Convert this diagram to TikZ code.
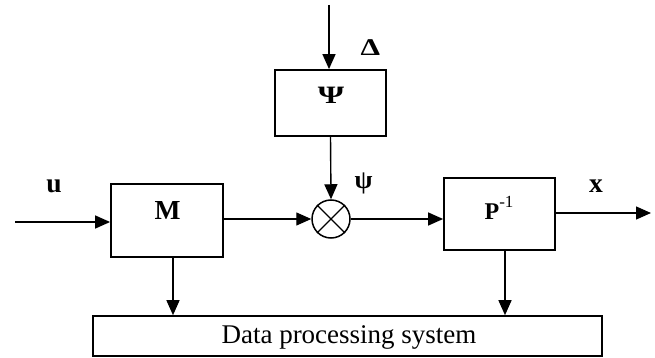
\documentclass[tikz,border=0pt]{standalone}
\usepackage{fontspec}
\setmainfont{Liberation Serif}
\usetikzlibrary{arrows.meta}
\begin{document}
\begin{tikzpicture}[x=1pt,y=-1pt,
  blk/.style={draw, line width=1.8pt, inner sep=0pt},
  conn/.style={line width=1.4pt, -{Triangle[length=15pt,width=13pt]}},
  plain/.style={line width=1.4pt},
  lblbig/.style={font=\fontsize{27.5}{30}\selectfont\bfseries, inner sep=0pt},
]
\useasboundingbox (0,0) rectangle (655,358);
% blocks
\node[blk, minimum width=112pt, minimum height=73pt] (M) at (167,220.5) {};
\node[blk, minimum width=111pt, minimum height=66pt] (Psi) at (330.5,103) {};
\node[blk, minimum width=111pt, minimum height=72pt] (P) at (499.5,214) {};
\node[draw, line width=1.6pt, inner sep=0pt, minimum width=509pt, minimum height=40pt] (D) at (347.5,336) {};
\node[draw, circle, line width=1.5pt, minimum size=38pt, inner sep=0pt] (X) at (331,219) {};
\draw[plain] (X.north west) -- (X.south east);
\draw[plain] (X.north east) -- (X.south west);
% labels
\node[lblbig, anchor=base] (Ml) at (167.5,219) {M};
\node[inner sep=0pt, anchor=base] (Psil) at (331,104) {\fontsize{25}{27}\selectfont\bfseries\scalebox{1.35}[1]{Ψ}};
\node[inner sep=0pt, anchor=base] (Pl) at (499,219.3) {\fontsize{24}{26}\selectfont\textbf{P}\raisebox{12pt}{\fontsize{17}{17}\selectfont -1}};
\node[inner sep=0pt, anchor=base] (Dl) at (349,343) {\fontsize{27}{30}\selectfont Data processing system};
\node[lblbig, anchor=base] (ul) at (54,193) {u};
\node[lblbig, anchor=base] (xl) at (596,193) {x};
\node[inner sep=0pt, anchor=base] (Del) at (370.5,55.5) {\fontsize{24}{26}\selectfont\bfseries\scalebox{1.3}[1]{Δ}};
\node[inner sep=0pt] (psil) at (363.5,183) {\fontsize{26}{28}\selectfont\bfseries ψ};
% free ends
\coordinate (uin) at (15,222);
\coordinate (top) at (329,5);
\coordinate (xout) at (651,213);
% connectors
\draw[conn] (uin) -- (uin -| M.west);
\draw[conn] (top) -- (top |- Psi.north);
\draw[conn] (Psi.south) -- (X.north);
\draw[conn] (M.east |- X.west) -- (X.west);
\draw[conn] (X.east) -- (X.east -| P.west);
\draw[conn] (xout -| P.east) -- (xout);
\draw[conn] ([xshift=6pt]M.south) -- ([xshift=6pt]M.south |- D.north);
\draw[conn] ([xshift=5.5pt]P.south) -- ([xshift=5.5pt]P.south |- D.north);
\end{tikzpicture}
\end{document}
